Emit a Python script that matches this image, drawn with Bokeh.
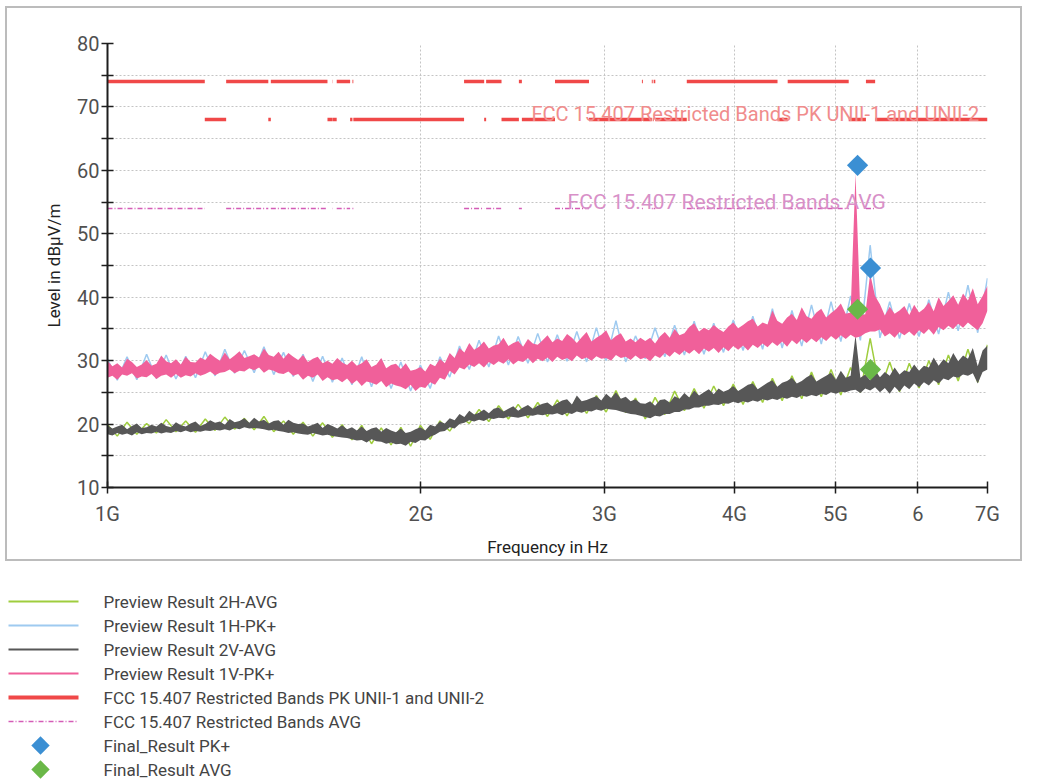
import numpy as np
from bokeh.plotting import figure
from bokeh.models import FixedTicker, Label, Range1d
from bokeh.core.properties import value
from bokeh.layouts import column
from bokeh.embed import file_html
from bokeh.resources import INLINE

# ---------------- data ----------------
sweep_start_mhz = 1000
sweep_stop_mhz = 7000

# 1V-PK+ : upper and lower envelope of the dense sweep
pk_1v_upper = [30.0, 29.1, 29.6, 28.9, 30.3, 29.8, 29.0, 29.4, 30.1, 29.2,
               29.5, 30.8, 29.9, 29.6, 30.2, 29.4, 30.6, 29.8, 29.7, 30.5,
               30.1, 31.1, 30.5, 30.0, 31.3, 30.2, 30.8, 31.5, 30.4, 30.7,
               31.0, 30.5, 31.9, 30.9, 30.6, 31.4, 30.3, 31.2, 30.6, 30.1,
               30.9, 29.8, 30.3, 30.6, 29.6, 30.0, 29.5, 30.4, 29.7, 29.3,
               30.0, 29.2, 29.6, 30.2, 29.0, 29.4, 30.4, 28.8, 29.3, 29.5,
               28.7, 29.6, 28.4, 28.6, 29.0, 28.3, 29.5, 29.1, 30.3, 29.6,
               31.2, 30.4, 32.0, 31.3, 32.8, 31.7, 32.2, 33.0, 31.9, 32.4,
               32.6, 33.6, 32.3, 32.8, 33.1, 32.2, 33.4, 32.7, 32.5, 33.2,
               34.0, 32.9, 33.5, 33.1, 34.2, 33.6, 32.8, 33.7, 34.5, 33.0,
               33.6, 34.1, 34.8, 33.2, 33.9, 34.3, 33.0, 33.5, 32.9, 33.6,
               33.1, 33.6, 32.7, 33.8, 34.5, 33.6, 35.0, 34.0, 34.3, 35.3,
               35.9, 34.6, 35.2, 34.8, 35.6, 35.0, 34.5, 35.4, 36.0, 35.1,
               35.6, 36.2, 36.6, 35.4, 36.0, 35.7, 37.9, 36.3, 35.8, 36.8,
               37.4, 36.4, 38.4, 37.0, 36.6, 37.6, 38.2, 36.8, 37.5, 38.1,
               39.0, 37.4, 37.6, 59.5, 37.2, 37.3, 43.7, 40.2, 38.9, 37.1,
               38.5, 37.4, 37.9, 38.6, 37.2, 38.8, 37.6, 38.2, 39.2, 37.8,
               40.0, 38.6, 39.4, 40.3, 38.8, 40.6, 39.5, 41.4, 38.9, 40.2,
               41.8]
pk_1v_lower = [27.3, 27.6, 27.0, 27.8, 27.6, 28.0, 27.2, 27.5, 27.4, 27.9,
               27.1, 27.6, 27.8, 27.3, 27.9, 27.3, 27.7, 27.5, 28.0, 27.6,
               27.9, 28.3, 27.7, 28.1, 28.2, 28.6, 28.0, 28.4, 28.3, 28.8,
               28.5, 28.9, 28.1, 28.6, 28.4, 28.0, 27.9, 28.3, 27.6, 27.9,
               27.0, 27.6, 27.3, 27.8, 26.8, 27.4, 26.9, 27.1, 26.6, 27.2,
               26.3, 26.9, 26.0, 26.7, 26.5, 26.2, 26.8, 25.8, 26.4, 26.1,
               25.9, 25.5, 26.2, 25.2, 25.9, 25.7, 26.6, 26.2, 27.3, 27.0,
               28.4, 27.8, 28.9, 28.6, 29.4, 29.0, 29.6, 28.9, 29.8, 29.3,
               29.9, 29.5, 30.2, 29.4, 30.0, 29.8, 30.4, 29.6, 30.3, 29.9,
               30.5, 29.8, 30.6, 30.1, 30.4, 29.9, 30.8, 30.2, 30.5, 30.0,
               30.7, 30.3, 30.4, 30.0, 30.9, 30.4, 30.6, 30.1, 30.8, 30.2,
               30.5, 29.9, 30.8, 30.4, 31.2, 30.6, 31.4, 30.9, 31.6, 31.1,
               31.7, 31.0, 31.9, 31.4, 32.0, 31.2, 32.1, 31.5, 32.3, 31.7,
               32.4, 31.6, 32.5, 32.0, 32.7, 32.1, 32.9, 32.3, 33.0, 32.2,
               33.2, 32.6, 33.4, 32.8, 33.5, 32.9, 33.7, 33.1, 33.9, 33.3,
               34.0, 33.4, 34.1, 33.6, 33.8, 34.3, 34.6, 34.6, 34.9, 33.8,
               34.3, 33.6, 34.5, 34.0, 34.6, 33.9, 34.8, 34.2, 35.0, 34.1,
               35.3, 34.8, 35.5, 35.0, 35.8, 35.2, 36.0, 35.4, 34.8, 35.9,
               37.9]

# 1H-PK+ : sweep trace
pk_1h = [30.3, 26.9, 30.6, 27.0, 31.0, 27.2, 30.9, 27.1, 30.7, 27.3,
         31.4, 27.6, 31.8, 28.0, 31.6, 28.1, 32.2, 27.8, 31.3, 27.5,
         31.0, 26.7, 30.7, 26.6, 30.4, 26.2, 30.6, 25.9, 30.2, 25.6,
         29.8, 25.2, 29.3, 25.6, 30.6, 27.4, 32.3, 28.6, 33.2, 29.0,
         33.9, 29.3, 33.8, 29.6, 34.3, 29.8, 34.1, 29.9, 34.6, 29.8,
         35.2, 30.0, 36.3, 29.8, 33.9, 30.3, 35.2, 30.6, 35.6, 30.9,
         36.2, 31.0, 35.9, 31.3, 36.4, 31.6, 37.0, 31.8, 38.2, 32.0,
         37.9, 32.3, 38.8, 32.6, 39.3, 33.0, 40.2, 33.2, 48.2, 33.6,
         39.3, 33.5, 39.0, 33.8, 39.6, 34.2, 40.8, 34.7, 41.9, 34.4,
         43.0]

# 2V-AVG : upper and lower envelope of the dense sweep
avg_2v_upper = [19.8, 19.3, 19.6, 19.9, 19.2, 19.7, 20.1, 19.4, 19.5, 19.9,
                19.6, 20.2, 19.7, 19.5, 20.3, 19.8, 19.6, 20.1, 20.4, 19.7,
                20.0, 20.6, 20.2, 20.4, 19.9, 20.8, 20.3, 20.5, 20.9, 20.2,
                21.0, 20.4, 20.7, 20.1, 20.5, 20.6, 19.9, 20.7, 20.2, 20.0,
                20.1, 19.6, 19.9, 20.2, 19.4, 20.0, 19.7, 19.3, 19.8, 19.2,
                19.5, 19.0, 19.6, 18.9, 19.3, 19.5, 18.8, 19.4, 19.0, 18.7,
                19.3, 18.6, 18.8, 19.2, 19.5, 19.0, 19.9, 19.6, 20.4, 20.1,
                20.9, 20.6, 21.6, 21.1, 22.1, 21.5, 21.8, 22.3, 21.7, 22.4,
                22.6, 22.0, 22.4, 22.8, 22.1, 22.6, 23.0, 22.4, 22.9, 23.2,
                23.4, 22.8, 23.3, 23.7, 23.9, 23.1, 24.5, 23.6, 23.8, 24.1,
                24.4, 23.7, 24.8, 24.1, 25.0, 24.0, 24.3, 23.6, 23.9, 23.3,
                23.2, 23.6, 22.9, 23.8, 23.9, 23.4, 24.4, 24.0, 24.9, 24.2,
                25.3, 24.5, 25.0, 25.5, 24.7, 25.6, 25.1, 25.4, 26.0, 25.2,
                25.7, 26.2, 26.4, 25.5, 26.0, 26.5, 26.9, 25.9, 26.5, 26.8,
                27.3, 26.4, 26.8, 27.4, 27.8, 26.7, 27.2, 27.6, 28.1, 27.0,
                28.4, 27.3, 27.6, 34.0, 27.3, 27.8, 26.9, 28.5, 27.4, 28.2,
                27.6, 28.9, 27.8, 28.5, 28.2, 29.4, 28.4, 29.2, 28.9, 30.5,
                29.2, 30.2, 29.6, 31.2, 29.9, 30.8, 30.3, 32.0, 29.1, 31.6,
                32.4]
avg_2v_lower = [18.4, 18.2, 18.6, 18.3, 18.5, 18.2, 18.7, 18.4, 18.6, 18.5,
                18.8, 18.5, 18.7, 18.6, 18.9, 18.7, 19.0, 18.7, 18.9, 18.8,
                19.0, 18.9, 19.1, 19.0, 19.2, 19.0, 19.4, 19.2, 19.5, 19.3,
                19.4, 19.3, 19.2, 19.0, 19.1, 18.9, 18.8, 18.6, 18.7, 18.5,
                18.4, 18.3, 18.6, 18.4, 18.2, 18.3, 18.1, 18.0, 17.9, 17.8,
                17.6, 17.4, 17.5, 17.1, 17.6, 17.3, 17.2, 16.9, 17.1, 16.8,
                16.9, 16.6, 17.2, 17.0, 17.5, 17.4, 18.0, 18.3, 18.8, 18.9,
                19.5, 19.3, 20.0, 20.2, 20.6, 20.4, 20.7, 20.5, 20.9, 20.8,
                21.0, 20.9, 21.2, 21.1, 21.0, 21.2, 21.4, 21.3, 21.5, 21.4,
                21.6, 21.5, 21.7, 21.4, 21.8, 21.6, 22.0, 21.8, 22.1, 22.0,
                22.3, 22.1, 22.4, 22.3, 22.2, 22.0, 21.8, 21.6, 21.5, 21.3,
                21.1, 20.9, 21.3, 21.2, 21.6, 21.6, 21.9, 21.9, 22.3, 22.3,
                22.6, 22.6, 22.9, 22.9, 23.1, 23.0, 23.3, 23.2, 23.5, 23.3,
                23.6, 23.4, 23.7, 23.5, 23.9, 23.7, 24.0, 23.8, 24.2, 24.0,
                24.3, 24.1, 24.5, 24.3, 24.6, 24.4, 24.8, 24.6, 25.0, 24.8,
                25.1, 25.0, 25.3, 25.4, 24.9, 25.6, 25.3, 25.8, 25.0, 25.7,
                24.8, 25.9, 25.1, 26.1, 25.5, 26.4, 25.8, 26.6, 26.1, 26.9,
                26.4, 27.2, 26.9, 27.5, 27.3, 27.8, 27.6, 28.0, 26.4, 28.2,
                28.6]

# 2H-AVG : sweep trace
avg_2h = [19.9, 18.1, 20.3, 18.4, 20.1, 18.6, 20.7, 18.8, 20.5, 18.7,
          20.8, 19.0, 21.1, 19.2, 20.9, 19.1, 21.2, 18.8, 20.5, 18.4,
          20.3, 18.1, 20.2, 17.9, 19.9, 17.5, 19.8, 16.9, 19.4, 16.7,
          19.5, 16.5, 19.8, 17.6, 20.5, 18.9, 21.2, 20.1, 22.3, 20.4,
          22.9, 20.8, 23.1, 21.0, 23.4, 21.2, 23.8, 21.3, 24.1, 21.7,
          24.5, 21.9, 25.3, 21.8, 24.1, 20.8, 24.2, 21.5, 25.2, 22.1,
          25.6, 22.5, 26.0, 22.9, 26.3, 23.1, 26.7, 23.4, 27.2, 23.7,
          27.6, 24.0, 28.2, 24.3, 28.6, 24.6, 28.9, 25.0, 33.5, 25.3,
          29.8, 25.1, 29.6, 25.7, 30.0, 26.2, 30.9, 26.8, 31.8, 26.6,
          32.5]

restricted_start_mhz = [1000, 1300, 1435, 1645.5, 1660, 1718.8, 2200, 2310, 2483.5,
                        2690, 3260, 3332, 3345.8, 3600, 4500, 5350]
restricted_stop_mhz = [1240, 1427, 1626.5, 1646.5, 1710, 1722.2, 2300, 2390, 2500,
                       2900, 3267, 3339, 3358, 4400, 5150, 5460]
limit_pk_restricted = 74
limit_pk_unii = 68
limit_avg_restricted = 54

final_freq_mhz = [5252, 5404]
final_pk = [60.8, 44.6]
final_avg = [38.1, 28.6]

x_ticks = [1000, 2000, 3000, 4000, 5000, 6000, 7000]
x_tick_labels = ["1G", "2G", "3G", "4G", "5G", "6", "7G"]
y_ticks = [10, 20, 30, 40, 50, 60, 70, 80]
y_minor_ticks = [15, 25, 35, 45, 55, 65, 75]

series_names = ["Preview Result 2H-AVG", "Preview Result 1H-PK+", "Preview Result 2V-AVG",
                "Preview Result 1V-PK+", "FCC 15.407 Restricted Bands PK UNII-1 and UNII-2",
                "FCC 15.407 Restricted Bands AVG", "Final_Result PK+", "Final_Result AVG"]

# ---------------- styles ----------------
C_2H = "#9fcd3e"
C_1H = "#9ecaf0"
C_2V = "#575757"
C_1V = "#f0609a"
C_PK = "#f04848"
C_AVG = "#d45cb6"
C_FPK = "#3b8fd3"
C_FAVG = "#6ab848"
FONT = "Roboto"
FRAME = "#bcbcbc"

def sweep(values):
    return np.geomspace(sweep_start_mhz, sweep_stop_mhz, len(values))

p = figure(width=1053, height=581, x_axis_type="log",
           x_range=Range1d(sweep_start_mhz, sweep_stop_mhz), y_range=Range1d(10, 80),
           output_backend="svg", toolbar_location=None,
           min_border_left=107, min_border_right=66, min_border_top=43, min_border_bottom=94)
p.frame_align = False
p.outline_line_color = None
p.background_fill_color = "white"
p.border_fill_color = None
# outer frame of the chart panel, drawn as the figure element's background
p.styles = {
    "background-color": "white",
    "background-image": ", ".join([f"linear-gradient({FRAME}, {FRAME})"] * 4),
    "background-size": "1017px 2px, 1017px 2px, 2px 555px, 2px 555px",
    "background-position": "5px 6px, 5px 559px, 5px 6px, 1020px 6px",
    "background-repeat": "no-repeat",
}

# axes
p.xaxis.ticker = FixedTicker(ticks=x_ticks, minor_ticks=[])
p.xaxis.major_label_overrides = {t: l for t, l in zip(x_ticks, x_tick_labels)}
p.yaxis.ticker = FixedTicker(ticks=y_ticks, minor_ticks=y_minor_ticks)
for ax in (p.xaxis, p.yaxis):
    ax.axis_line_color = "#1e1e1e"
    ax.axis_line_width = 2
    ax.major_tick_line_color = "#1e1e1e"
    ax.major_tick_line_width = 1.5
    ax.minor_tick_line_color = "#1e1e1e"
    ax.minor_tick_line_width = 1.5
    ax.major_tick_in = 6
    ax.major_tick_out = 6
    ax.minor_tick_in = 6
    ax.minor_tick_out = 6
    ax.major_label_text_font = FONT
    ax.major_label_text_font_size = "20px"
    ax.major_label_text_color = "#505050"
    ax.axis_label_text_font = FONT
    ax.axis_label_text_font_size = "17px"
    ax.axis_label_text_font_style = "normal"
    ax.axis_label_text_color = "#222222"
p.xaxis.axis_label = "Frequency in Hz"
p.yaxis.axis_label = "Level in dB\u00b5V/m"
p.xaxis.major_label_standoff = 8
p.yaxis.major_label_standoff = 2
p.xaxis.axis_label_standoff = 8
p.yaxis.axis_label_standoff = 10

# grid
for g in (p.xgrid, p.ygrid):
    g.grid_line_color = "#c4c4c4"
    g.grid_line_dash = "2 2"
    g.grid_line_width = 1
p.ygrid.minor_grid_line_color = "#c4c4c4"
p.ygrid.minor_grid_line_dash = "2 2"

# limit lines
gap_start = list(restricted_stop_mhz)
gap_stop = list(restricted_start_mhz[1:]) + [sweep_stop_mhz]
n_r = len(restricted_start_mhz)
n_g = len(gap_start)
p.segment(x0=restricted_start_mhz, y0=[limit_avg_restricted] * n_r,
          x1=restricted_stop_mhz, y1=[limit_avg_restricted] * n_r,
          line_color=C_AVG, line_width=1.5, line_dash="5 2 1 2")
p.segment(x0=restricted_start_mhz, y0=[limit_pk_restricted] * n_r,
          x1=restricted_stop_mhz, y1=[limit_pk_restricted] * n_r,
          line_color=C_PK, line_width=3.5)
p.segment(x0=gap_start, y0=[limit_pk_unii] * n_g, x1=gap_stop, y1=[limit_pk_unii] * n_g,
          line_color=C_PK, line_width=3.5)

# traces
p.line(sweep(avg_2h), avg_2h, line_color=C_2H, line_width=1.5)
p.line(sweep(pk_1h), pk_1h, line_color=C_1H, line_width=1.5)
p.varea(x=sweep(avg_2v_upper), y1=avg_2v_lower, y2=avg_2v_upper, fill_color=C_2V)
p.varea(x=sweep(pk_1v_upper), y1=pk_1v_lower, y2=pk_1v_upper, fill_color=C_1V)

# final results
p.scatter(final_freq_mhz, final_pk, marker="square", angle=np.pi / 4, size=15,
          fill_color=C_FPK, line_color=None)
p.scatter(final_freq_mhz, final_avg, marker="square", angle=np.pi / 4, size=15,
          fill_color=C_FAVG, line_color=None)

# limit labels
p.add_layout(Label(x=2554, y=limit_pk_unii, y_offset=6, text=series_names[4],
                   text_font=FONT, text_font_size="20px", text_color="#f08c8c",
                   text_baseline="alphabetic"))
p.add_layout(Label(x=2766, y=limit_avg_restricted, y_offset=6, text=series_names[5],
                   text_font=FONT, text_font_size="21px", text_color="#d890c8",
                   text_baseline="alphabetic"))

# ---------------- legend panel (pixel coordinates, y downwards) ----------------
pl = figure(width=1053, height=200, x_range=Range1d(0, 1053), y_range=Range1d(200, 0),
            x_axis_type=None, y_axis_type=None, output_backend="svg",
            toolbar_location=None, min_border=0)
pl.frame_align = False
pl.outline_line_color = None
pl.grid.visible = False

ROW0, ROW_H = 20, 24
rows = [ROW0 + k * ROW_H for k in range(len(series_names))]
SX0, SX1, SXC, TX = 8, 78, 40, 103
line_styles = [dict(line_color=C_2H, line_width=2),
               dict(line_color=C_1H, line_width=2),
               dict(line_color=C_2V, line_width=2),
               dict(line_color=C_1V, line_width=2),
               dict(line_color=C_PK, line_width=4),
               dict(line_color=C_AVG, line_width=1.5, line_dash="5 2 1 2")]
for yy, st in zip(rows[:6], line_styles):
    pl.line([SX0, SX1], [yy, yy], **st)
pl.scatter([SXC], [rows[6]], marker="square", angle=np.pi / 4, size=13,
           fill_color=C_FPK, line_color=None)
pl.scatter([SXC], [rows[7]], marker="square", angle=np.pi / 4, size=13,
           fill_color=C_FAVG, line_color=None)
pl.text(x=[TX] * len(series_names), y=rows, text=series_names,
        text_font=value(FONT), text_font_size="17px", text_color="#444444",
        text_baseline="middle", text_align="left")

page = column(p, pl)
open("out.html", "w").write(file_html(page, INLINE))
